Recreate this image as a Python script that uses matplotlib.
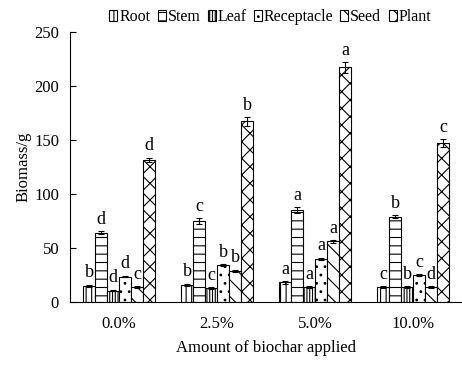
import numpy as np
import matplotlib.pyplot as plt

plt.rcParams['font.family'] = ['Liberation Serif', 'DejaVu Serif']
plt.rcParams['hatch.linewidth'] = 0.8

# Data
groups = ["0.0%", "2.5%", "5.0%", "10.0%"]
parts = ["Root", "Stem", "Leaf", "Receptacle", "Seed", "Plant"]
root = [15, 16, 18, 13.5]
stem = [64, 75, 85, 79]
leaf = [10.5, 13, 14, 13.5]
receptacle = [23.5, 34, 40, 25]
seed = [14, 29, 56, 13.5]
plant = [131.5, 167, 217, 147]
root_err = [1, 1, 1, 1]
stem_err = [1.5, 2.5, 2.5, 1.5]
leaf_err = [0.8, 0.8, 0.8, 0.8]
receptacle_err = [0.8, 1, 1, 0.8]
seed_err = [0.8, 1, 1.5, 0.8]
plant_err = [2, 4, 5, 3.5]
letters = [["b", "d", "d", "d", "c", "d"],
           ["b", "c", "c", "b", "b", "b"],
           ["a", "a", "a", "a", "a", "a"],
           ["c", "b", "b", "c", "d", "c"]]

values = [root, stem, leaf, receptacle, seed, plant]
errors = [root_err, stem_err, leaf_err, receptacle_err, seed_err, plant_err]
hatches = ["|||", "--", "||||||", "..", "\\\\", "xx"]

fig = plt.figure(figsize=(4.62, 3.70), dpi=100)
ax = fig.add_axes([0.152, 0.184, 0.848, 0.73])

x = np.arange(len(groups))
w = 0.123
for i, name in enumerate(parts):
    pos = x + (i - 2.5) * w
    ax.bar(pos, values[i], w, color="white", edgecolor="black", linewidth=0.8,
           hatch=hatches[i], label=name,
           yerr=errors[i], error_kw=dict(ecolor="black", elinewidth=0.8, capsize=2.5, capthick=0.8))
    for j in range(len(groups)):
        ax.text(pos[j], values[i][j] + errors[i][j] + 3, letters[j][i],
                ha="center", va="bottom", fontsize=13)

ax.set_xlim(-0.5, 3.5)
ax.set_ylim(0, 250)
ax.set_yticks([0, 50, 100, 150, 200, 250])
ax.set_xticks(x)
ax.set_xticklabels(groups)
ax.tick_params(axis="y", direction="in", length=4, labelsize=12, pad=8)
ax.tick_params(axis="x", length=0, labelsize=12, pad=10)
ax.spines["top"].set_visible(False)
ax.spines["right"].set_visible(False)
ax.set_xlabel("Amount of biochar applied", fontsize=12, labelpad=6)
ax.set_ylabel("Biomass/g", fontsize=12, labelpad=2)

fig.legend(loc="center", bbox_to_anchor=(0.585, 0.953), ncol=6, frameon=False,
           fontsize=11.5, handlelength=0.5, handleheight=0.65, handletextpad=0.12,
           columnspacing=0.45, borderpad=0)

plt.savefig("out.png", dpi=100)
